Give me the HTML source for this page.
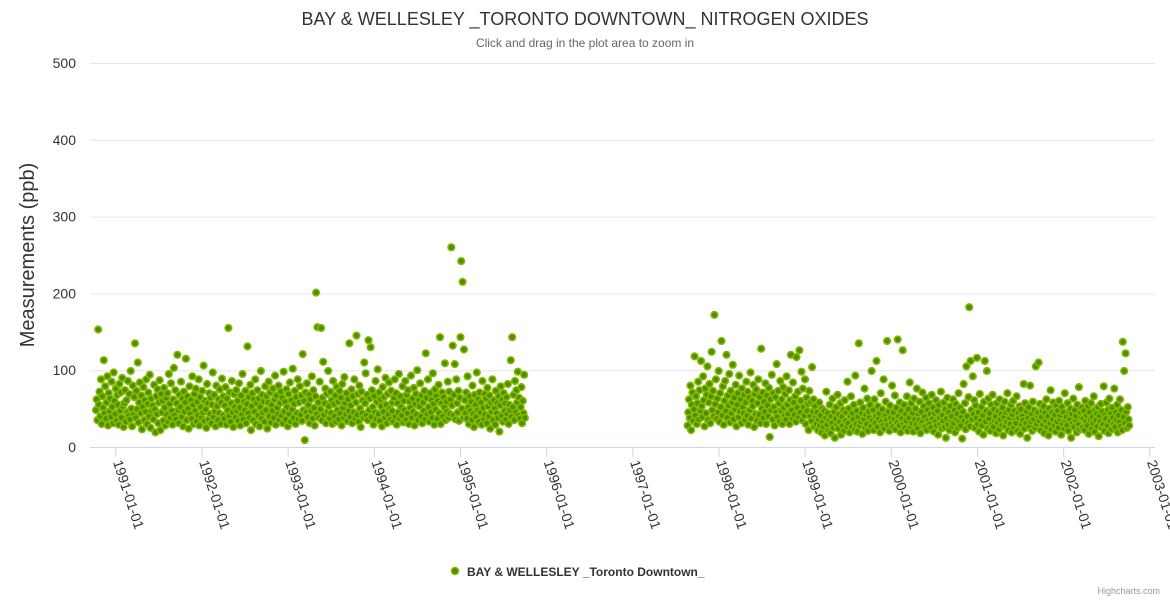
<!DOCTYPE html>
<html><head><meta charset="utf-8"><style>
body{margin:0;background:#fff;font-family:"Liberation Sans","DejaVu Sans",sans-serif}
svg text{font-family:"Liberation Sans","DejaVu Sans",sans-serif}
</style></head><body>
<svg id="chart" width="1170" height="600" xmlns="http://www.w3.org/2000/svg">
<rect width="1170" height="600" fill="#fff"/>
<text x="585" y="25" text-anchor="middle" font-size="18" fill="#333">BAY &amp; WELLESLEY _TORONTO DOWNTOWN_ NITROGEN OXIDES</text>
<text x="585" y="47" text-anchor="middle" font-size="12" fill="#666">Click and drag in the plot area to zoom in</text>
<g id="grid"></g>
<g id="yticks"></g>
<text transform="translate(34,255) rotate(-90)" text-anchor="middle" font-size="20" fill="#333">Measurements (ppb)</text>
<g id="points"></g>
<g id="xticks"></g>
<g>
<circle cx="455" cy="571" r="3.5" fill="#4b8f00" stroke="#86b800" stroke-width="1.5"/>
<text x="467" y="576" font-size="12" font-weight="bold" fill="#333">BAY &amp; WELLESLEY _Toronto Downtown_</text>
</g>
<text x="1160" y="594" text-anchor="end" font-size="9" fill="#999">Highcharts.com</text>
</svg>
<script>
const yTicks=[0,100,200,300,400,500];
const xTickYears=[1991,1992,1993,1994,1995,1996,1997,1998,1999,2000,2001,2002,2003];
const seg1Start=1990.77;
const seg2Start=1997.635;
const stepDays=3;
const seg1Values=[
48,62,35,153,55,72,40,88,30,66,51,113,44,79,37,58,92,28,70,46,
63,39,85,52,31,97,60,43,76,34,68,55,29,82,47,71,38,90,53,26,
57,74,33,61,45,86,41,69,36,99,50,27,80,42,65,135,38,73,49,110,
32,58,84,44,67,23,52,78,35,61,46,88,30,56,71,40,94,25,63,47,
54,36,81,49,19,66,43,75,31,58,87,22,69,45,60,34,77,51,28,64,
42,70,33,95,56,38,83,47,29,62,103,41,74,36,57,120,48,31,68,52,
85,39,63,27,72,46,58,115,35,66,50,24,79,43,61,37,92,55,30,69,
47,76,33,59,41,88,28,65,52,38,73,45,106,34,60,49,25,82,57,36,
70,43,64,31,55,97,39,68,46,27,80,53,35,62,44,75,30,58,89,41,
66,37,54,78,29,63,48,155,40,71,33,57,86,45,26,69,52,38,74,47,
60,34,83,51,28,67,42,95,36,59,48,73,31,56,131,44,65,38,81,22,
53,70,35,62,46,88,30,57,74,41,63,27,52,99,37,68,45,59,33,79,
48,66,24,58,85,40,71,32,55,47,76,38,62,93,29,67,51,43,80,35,
57,72,41,64,31,98,46,59,36,75,52,27,69,43,84,33,61,49,102,38,
56,73,30,65,44,88,36,58,79,42,67,34,121,48,60,9,71,45,83,39,
55,68,31,62,47,92,37,74,51,28,66,201,43,156,58,38,85,49,155,35,
64,111,42,57,76,31,69,46,99,53,37,72,44,61,30,86,56,40,67,33,
78,48,59,36,73,44,64,28,82,51,38,91,57,43,70,34,62,47,135,39,
54,75,31,66,45,88,37,58,145,42,69,33,80,50,26,72,44,61,38,110,
57,96,41,68,35,139,48,63,130,39,74,52,29,66,45,86,36,59,101,43,
71,34,62,53,27,78,46,65,38,90,55,31,69,42,84,50,36,73,47,58,
33,64,88,40,70,29,57,45,95,37,66,52,41,79,32,60,48,86,35,68,
44,74,30,59,51,93,38,63,46,77,28,56,69,42,100,35,61,53,83,40,
67,31,58,47,73,36,122,64,43,88,52,33,70,45,61,38,96,56,29,75,
49,66,37,60,81,44,143,30,57,71,40,65,52,109,35,59,46,85,38,72,
43,62,260,54,132,41,68,108,36,88,57,45,73,34,64,143,242,50,215,38,
127,61,44,71,37,92,52,30,66,47,59,35,80,43,26,68,55,39,97,48,
62,33,71,45,58,29,86,51,37,69,42,63,31,77,53,40,67,24,58,46,
88,35,61,50,29,73,44,57,38,66,20,54,79,41,62,33,70,47,57,36,
65,43,82,30,55,48,113,39,143,52,68,35,86,45,74,58,98,41,64,37,
52,78,31,60,44,94,38
];
const seg2Values=[
28,45,62,38,80,22,55,71,34,49,118,41,66,30,57,85,36,74,47,112,
53,39,92,61,27,76,44,68,105,35,58,82,31,66,124,48,73,40,172,56,
88,37,63,45,99,33,70,52,138,41,79,29,60,86,47,120,38,67,54,95,
32,73,44,58,107,36,64,49,81,27,55,70,39,93,46,62,31,76,52,44,
68,35,58,85,41,72,29,64,48,97,37,60,53,81,26,69,43,75,34,57,
88,42,65,31,128,50,71,38,59,46,83,30,67,54,40,77,13,62,48,94,
36,70,52,28,65,45,108,39,73,57,33,86,47,62,30,78,51,41,69,36,
92,55,43,74,30,61,120,48,37,84,58,42,66,33,117,51,72,39,126,45,
60,98,35,76,52,41,88,30,64,47,56,22,73,40,59,34,104,46,62,27,
53,39,30,45,22,36,58,28,41,19,50,33,26,47,15,38,72,29,44,21,
35,55,18,40,31,63,25,46,12,37,52,29,68,24,42,33,57,16,39,28,
48,21,61,34,45,27,85,31,50,19,40,66,26,44,36,55,22,93,30,47,
20,39,135,28,58,33,44,17,51,36,76,25,42,30,63,21,46,38,55,27,
99,34,48,22,62,31,40,112,26,53,37,44,19,70,33,49,28,88,24,41,
59,35,138,29,46,21,54,38,31,80,26,45,36,67,23,51,32,140,40,28,
58,19,47,37,126,30,55,25,43,34,66,21,49,38,84,27,57,31,44,20,
63,36,50,29,76,24,42,35,59,18,46,32,71,27,53,39,26,64,22,48,
35,57,30,43,25,68,37,51,20,44,33,61,28,47,16,55,38,30,72,24,
41,34,58,26,49,12,37,64,29,45,22,53,35,40,27,62,31,48,19,56,
36,43,25,70,33,51,28,39,11,46,82,34,57,23,105,40,31,65,182,27,
112,48,36,92,43,61,25,54,38,116,30,45,20,69,35,52,28,41,16,59,
112,33,47,99,24,63,37,44,21,55,30,68,26,49,34,40,18,57,32,46,
23,62,36,43,28,51,15,39,59,27,45,33,70,22,48,37,30,55,19,42,
60,26,47,35,31,66,21,44,38,53,17,49,29,40,35,82,24,57,31,46,
12,38,52,27,80,33,43,21,59,36,48,25,105,30,41,45,110,34,56,22,
39,47,29,53,18,44,34,62,26,40,15,50,31,74,23,45,36,58,28,42,
20,54,33,47,25,60,37,41,16,52,30,45,24,70,34,39,28,57,21,46,
36,50,12,43,31,63,26,48,35,40,19,55,29,78,23,44,38,51,25,37,
47,22,60,33,41,28,53,17,45,36,57,24,39,31,66,20,48,35,43,27,
52,14,40,33,56,25,46,30,79,21,42,37,58,28,48,18,63,34,44,23,
51,38,30,76,26,45,35,55,19,41,32,62,27,48,22,137,39,99,31,122,
46,25,52,36,28
];
const X0=90,X1=1155,Y0=447,Y1=63;
const tMin=1990.7,tMax=2003.06;
function xs(t){return X0+(t-tMin)/(tMax-tMin)*(X1-X0);}
function ys(v){return Y0-(v-0)/(500-0)*(Y0-Y1);}
const NS="http://www.w3.org/2000/svg";
const grid=document.getElementById('grid'),yt=document.getElementById('yticks');
yTicks.forEach(v=>{
  const l=document.createElementNS(NS,'line');
  l.setAttribute('x1',X0);l.setAttribute('x2',X1);l.setAttribute('y1',ys(v)+0.5);l.setAttribute('y2',ys(v)+0.5);
  l.setAttribute('stroke',v===0?'#ccd6eb':'#e6e6e6');l.setAttribute('stroke-width','1');
  
  
  grid.appendChild(l);
  const t=document.createElementNS(NS,'text');
  t.setAttribute('x',76);t.setAttribute('y',ys(v)+5);t.setAttribute('text-anchor','end');t.setAttribute('font-size','14');t.setAttribute('fill','#333');
  t.textContent=v;
  
  
  yt.appendChild(t);
});
const xt=document.getElementById('xticks');
xTickYears.forEach(y=>{
  const x=xs(y);
  const tk=document.createElementNS(NS,'line');
  tk.setAttribute('x1',x);tk.setAttribute('x2',x);tk.setAttribute('y1',Y0);tk.setAttribute('y2',Y0+10);tk.setAttribute('stroke','#ccd6eb');
  
  
  xt.appendChild(tk);
  const t=document.createElementNS(NS,'text');
  t.setAttribute('transform','translate('+(x-3)+','+(Y0+15)+') rotate(72)');
  t.setAttribute('font-size','14');t.setAttribute('fill','#333');
  t.textContent=y+'-01-01';
  
  
  xt.appendChild(t);
});
const pts=document.getElementById('points');
function plot(start,vals){
  vals.forEach((v,i)=>{
    const t=start+i*stepDays/365.25;
    const c=document.createElementNS(NS,'circle');
    c.setAttribute('cx',xs(t).toFixed(1));c.setAttribute('cy',ys(v).toFixed(1));c.setAttribute('r','3.3');
    c.setAttribute('fill','#4b8f00');c.setAttribute('stroke','#86b800');c.setAttribute('stroke-width','1.6');
    
    
    pts.appendChild(c);
  });
}
plot(seg1Start,seg1Values);
plot(seg2Start,seg2Values);
</script>
</body></html>
